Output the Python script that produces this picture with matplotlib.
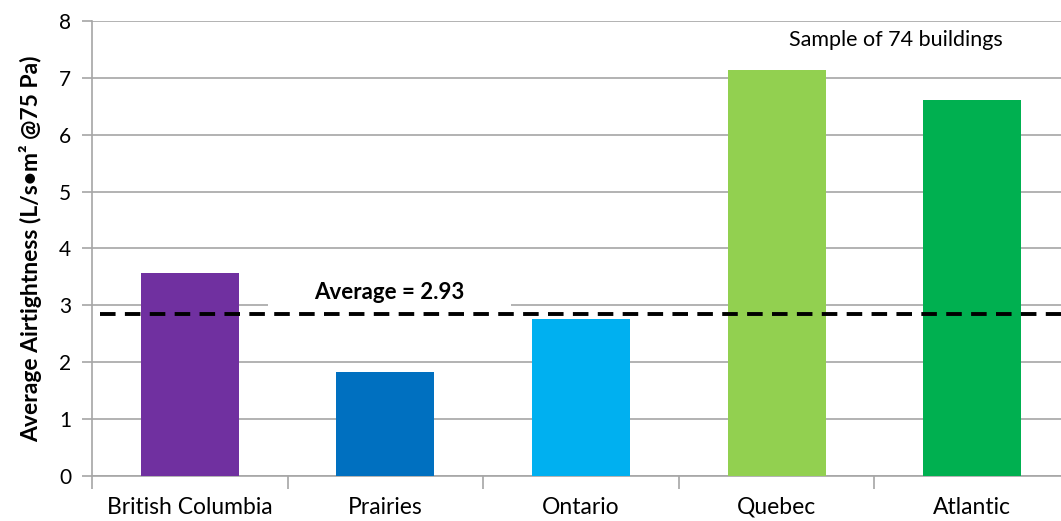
import matplotlib.pyplot as plt

regions = ['British Columbia', 'Prairies', 'Ontario', 'Quebec', 'Atlantic']
airtightness = [3.57, 1.83, 2.76, 7.14, 6.61]
bar_colors = ['#7030A0', '#0070C0', '#00B0F0', '#92D050', '#00B050']
average_line = 2.85
average_label = 'Average = 2.93'
sample_note = 'Sample of 74 buildings'
y_ticks = list(range(0, 9))

plt.rcParams['font.family'] = ['Lato', 'DejaVu Sans']

fig = plt.figure(figsize=(10.61, 5.21), dpi=100)
ax = fig.add_axes([0.0867, 0.0864, 0.9218, 0.8733])

x = list(range(len(regions)))
ax.bar(x, airtightness, width=0.5, color=bar_colors, zorder=3)

ax.set_xlim(-0.5, 4.5)
ax.set_ylim(0, 8)
ax.set_yticks(y_ticks)
ax.yaxis.grid(True, color='#a6a6a6', linewidth=1.2, zorder=0)
ax.set_axisbelow(True)

ax.set_xticks(x)
ax.set_xticklabels(regions, fontsize=16.5)
ax.set_xticks([i - 0.5 for i in range(len(regions) + 1)], minor=True)
ax.tick_params(axis='x', which='major', length=0, pad=15)
ax.tick_params(axis='x', which='minor', length=9, color='#a6a6a6', width=1.2)
ax.tick_params(axis='y', length=7, color='#a6a6a6', width=1.2, labelsize=15, pad=8)

for side in ['top', 'right']:
    ax.spines[side].set_visible(False)
ax.spines['left'].set_color('#a6a6a6')
ax.spines['bottom'].set_color('#a6a6a6')
ax.spines['left'].set_linewidth(1.2)
ax.spines['bottom'].set_linewidth(1.2)

ax.set_ylabel('Average Airtightness (L/s\u2022m\u00b2 @75 Pa)', fontsize=16.5,
              fontweight='bold', labelpad=12)

# label box: hide the gridline behind the "Average" text
label_x, label_y = 1.02, 3.22
ax.hlines(3, label_x - 0.62, label_x + 0.62, color='white', linewidth=3, zorder=1)
ax.text(label_x, label_y, average_label, ha='center', va='center', fontsize=16,
        fontweight='bold', zorder=5)

ax.axhline(average_line, xmin=0.008, color='black', linewidth=2.8,
           linestyle=(0, (4, 2.4)), zorder=6)
ax.text(3.61, 7.66, sample_note, ha='center', va='center', fontsize=15.5, zorder=5)

fig.savefig('out.png', dpi=100)
